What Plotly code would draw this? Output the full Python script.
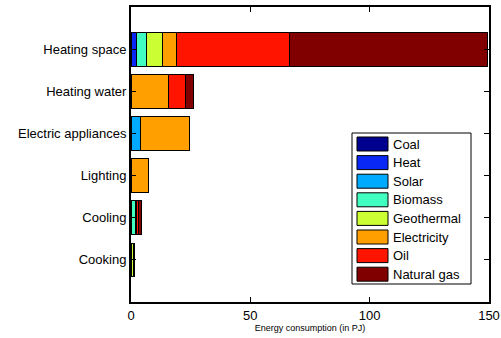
import plotly.graph_objects as go

# End uses, listed top to bottom
categories = ["Heating space", "Heating water", "Electric appliances",
              "Lighting", "Cooling", "Cooking"]

# Energy carriers (stack order, left to right)
series_names = ["Coal", "Heat", "Solar", "Biomass", "Geothermal",
                "Electricity", "Oil", "Natural gas"]
series_colors = ["#00008f", "#0a28f5", "#00aaff", "#40ffc0", "#ccff33",
                 "#ffa000", "#ff1400", "#800000"]

# Consumption per end use, in PJ
coal        = [0.0, 0.0, 0.0, 0.0, 0.0, 0.0]
heat        = [2.1, 0.0, 0.0, 0.0, 0.0, 0.0]
solar       = [0.0, 0.0, 4.0, 0.0, 0.0, 0.0]
biomass     = [4.2, 0.0, 0.0, 0.0, 1.9, 0.0]
geothermal  = [7.1, 0.0, 0.0, 0.0, 0.0, 1.1]
electricity = [5.5, 15.9, 20.3, 7.5, 0.6, 0.5]
oil         = [47.3, 7.1, 0.0, 0.0, 0.6, 0.0]
natural_gas = [83.3, 3.1, 0.0, 0.0, 1.2, 0.0]

series_values = [coal, heat, solar, biomass, geothermal,
                 electricity, oil, natural_gas]

x_ticks = [0, 50, 100, 150]

# first category at the top
positions = [len(categories) - i for i in range(len(categories))]

W, H = 501, 338
L, R, T, B = 131, 12, 7, 36

fig = go.Figure()
for name, color, vals in zip(series_names, series_colors, series_values):
    fig.add_trace(go.Bar(
        y=positions, x=vals, name=name, orientation="h",
        width=0.8, marker=dict(color=color, line=dict(color="#000000", width=1)),
        showlegend=False,
    ))

# Plot-area pixel -> paper coordinates
pw, ph = W - L - R, H - T - B
def px(x):
    return (x - L) / pw
def py(y):
    return (H - B - y) / ph

# Legend box with swatches
shapes = [dict(type="rect", xref="paper", yref="paper",
               x0=px(352), x1=px(471), y0=py(284), y1=py(133),
               line=dict(color="#000000", width=1), fillcolor="#ffffff",
               layer="above")]
annotations = []
for i, (name, color) in enumerate(zip(series_names, series_colors)):
    cy = 144 + i * 18.6
    shapes.append(dict(type="rect", xref="paper", yref="paper",
                       x0=px(357), x1=px(388), y0=py(cy + 7), y1=py(cy - 7),
                       line=dict(color="#000000", width=1), fillcolor=color,
                       layer="above"))
    annotations.append(dict(xref="paper", yref="paper", x=px(391), y=py(cy),
                            text=name, showarrow=False, xanchor="left",
                            yanchor="middle",
                            font=dict(size=13, color="#000000",
                                      family="Liberation Sans, Arial")))

fig.update_layout(
    barmode="stack",
    width=W, height=H,
    margin=dict(l=L, r=R, t=T, b=B, autoexpand=False),
    paper_bgcolor="#ffffff", plot_bgcolor="#ffffff",
    font=dict(family="Liberation Sans, Arial", size=13, color="#000000"),
    shapes=shapes, annotations=annotations,
    bargap=0.2,
)
fig.update_xaxes(
    range=[0, 150], tickvals=x_ticks, ticktext=[str(v) for v in x_ticks],
    ticks="inside", ticklen=5, tickcolor="#000000", tickwidth=1,
    showline=True, linecolor="#000000", linewidth=2, mirror="ticks",
    showgrid=False, zeroline=False, automargin=False,
    tickfont=dict(size=13),
    title=dict(text="Energy consumption (in PJ)", font=dict(size=9), standoff=2),
)
fig.update_yaxes(
    range=[0, 7], tickvals=positions, ticktext=categories,
    ticks="inside", ticklen=5, tickcolor="#000000", tickwidth=1,
    showline=True, linecolor="#000000", linewidth=2, mirror="ticks",
    showgrid=False, zeroline=False, automargin=False,
    tickfont=dict(size=13), ticklabelstandoff=0,
)

fig.write_html("out.html")
